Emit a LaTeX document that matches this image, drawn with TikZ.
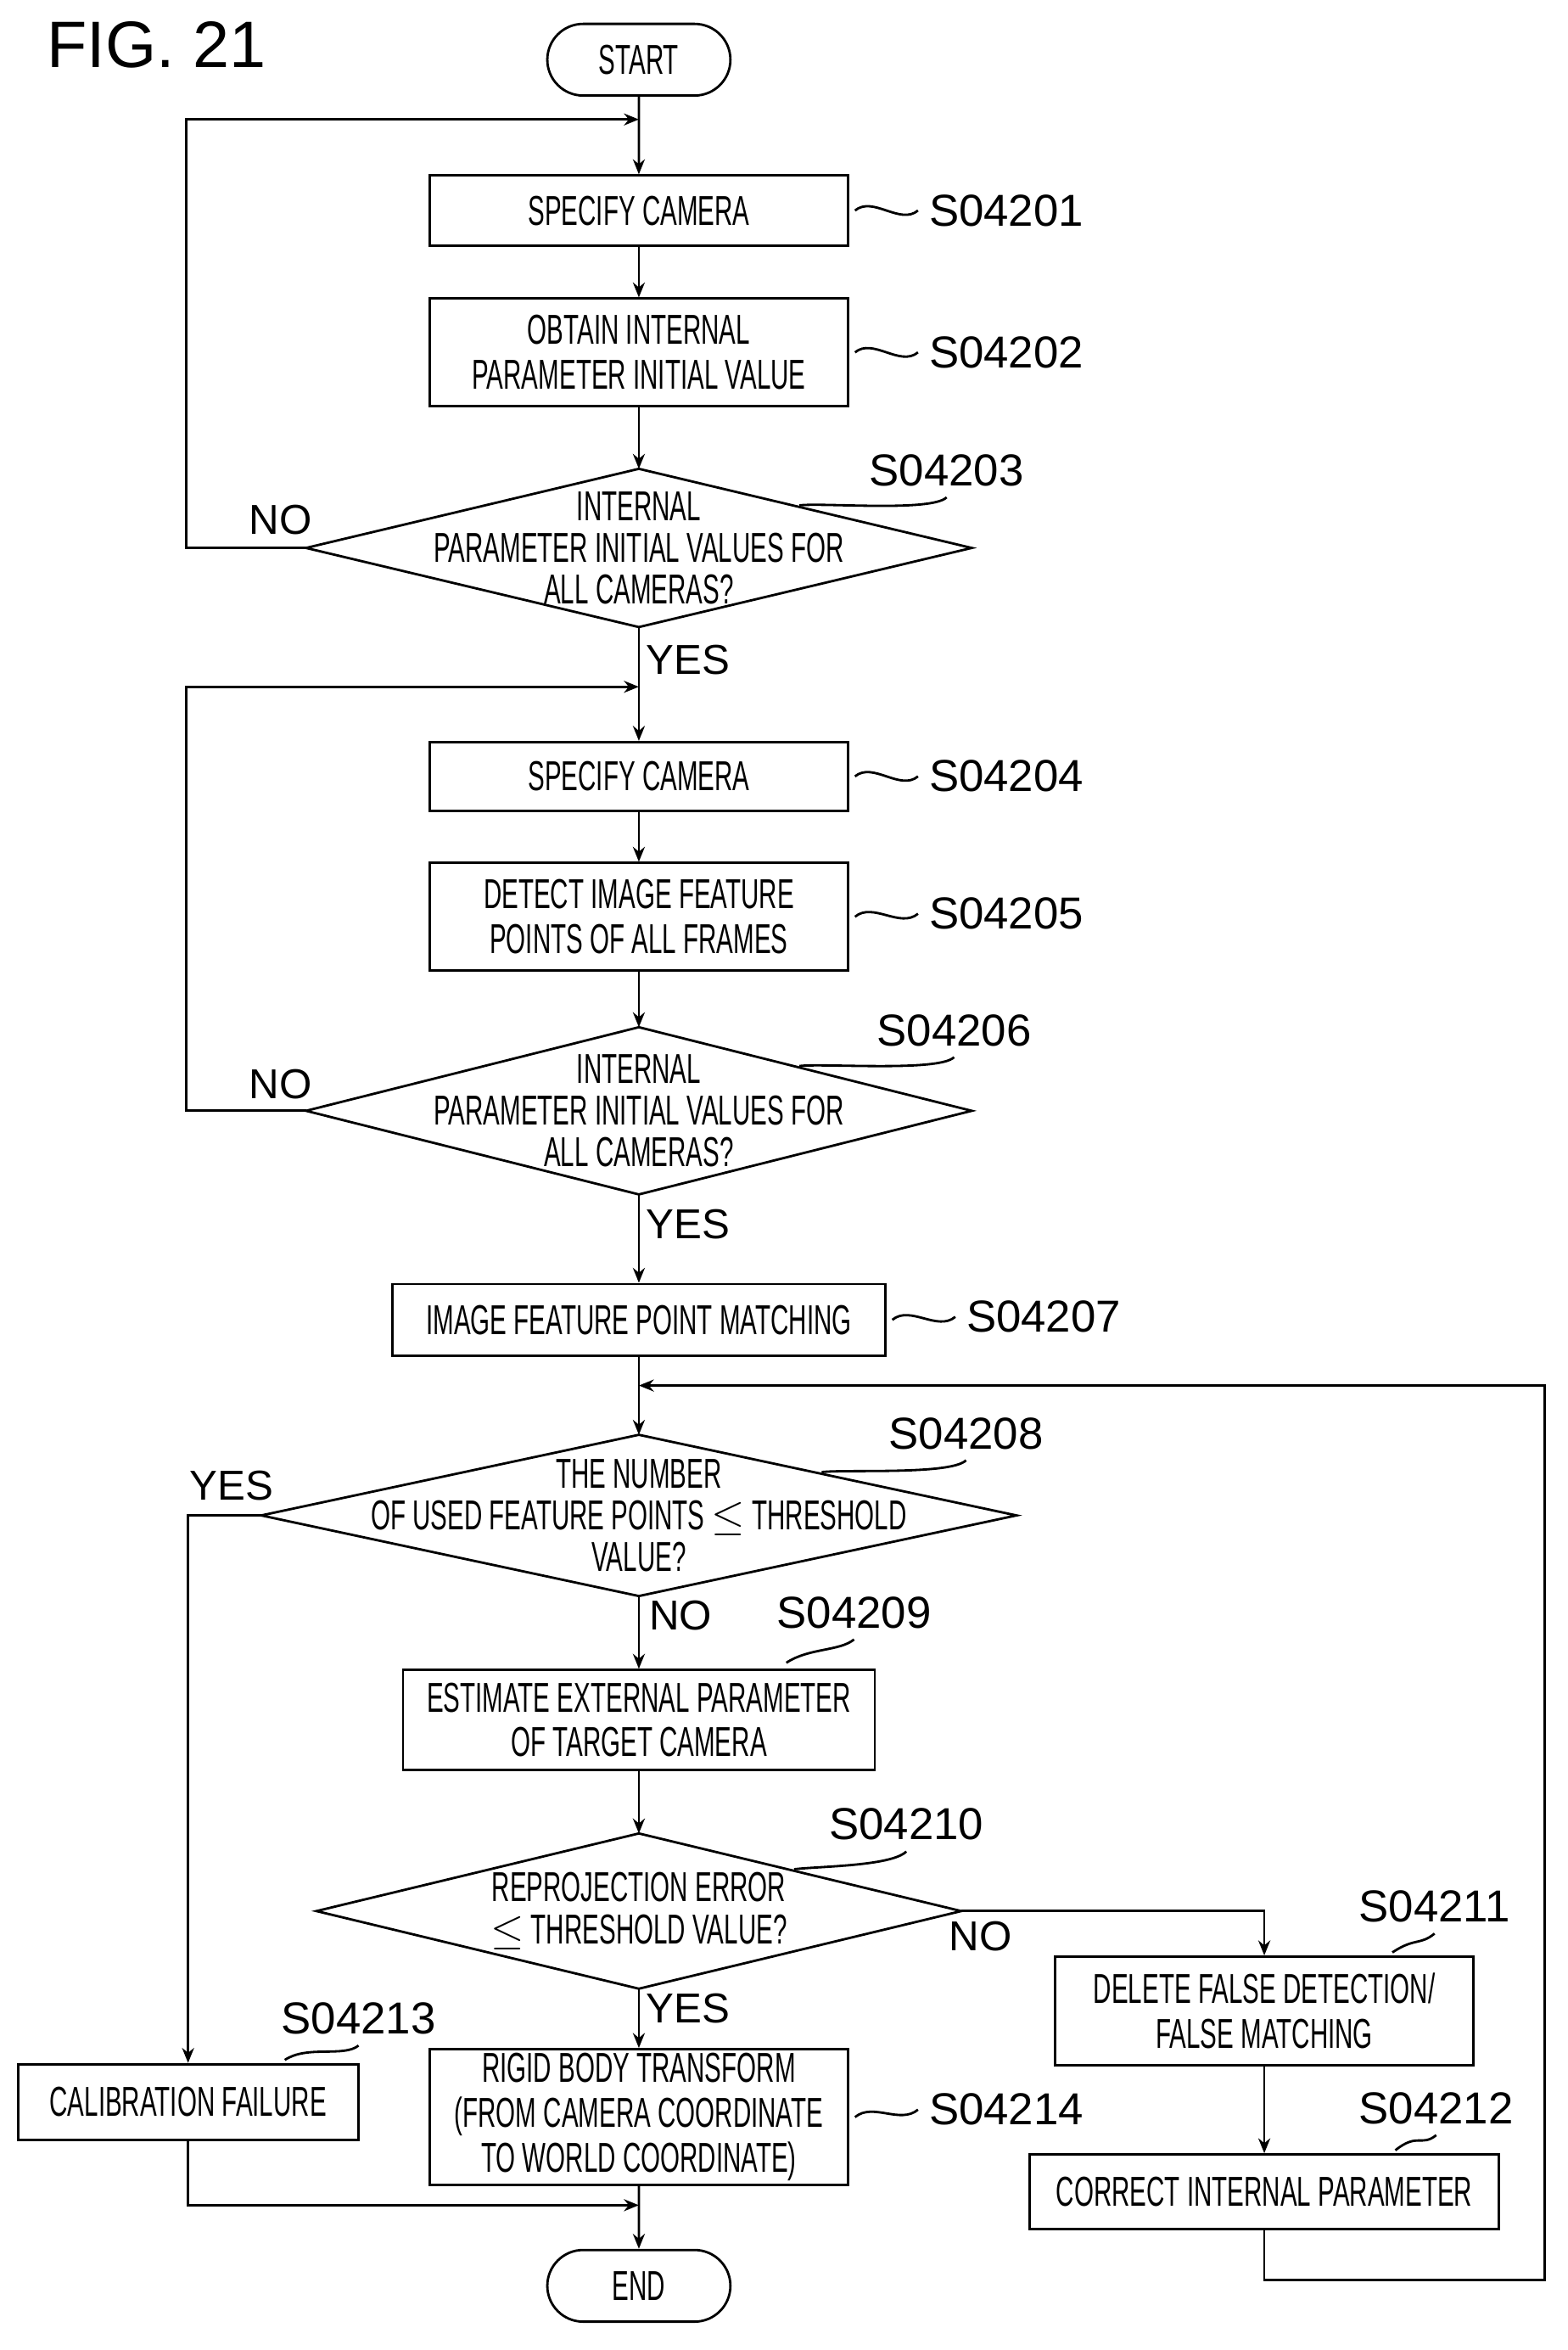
\documentclass[tikz,border=0pt]{standalone}
\usepackage{fontspec}
\setmainfont{Liberation Sans}
\newfontfamily\cond[FakeStretch=0.6]{Liberation Sans}
\usetikzlibrary{shapes.geometric,shapes.misc,arrows.meta}
\newcommand{\mydia}[6]{%
 \coordinate (#1-w) at (#2-#4,#3);
 \coordinate (#1-e) at (#2+#4,#3);
 \coordinate (#1-n) at (#2,#3-#5);
 \coordinate (#1-s) at (#2,#3+#5);
 \coordinate (#1-ne) at (#2+#4/2,#3-#5/2);
 \draw (#1-w) -- (#1-n) -- (#1-e) -- (#1-s) -- cycle;
 \node[diatext] (#1) at (#2,#3) {#6};}
\begin{document}
\begin{tikzpicture}[x=0.5pt,y=-0.5pt,
 line width=0.8pt,
 box/.style={draw,rectangle,inner sep=0pt,font=\cond\fontsize{14}{15}\selectfont,align=center},
 term/.style={draw,rounded rectangle,minimum width=68pt,minimum height=24pt,font=\cond\fontsize{14}{15}\selectfont},
 diatext/.style={inner sep=0pt,font=\cond\fontsize{14}{14}\selectfont,align=center},
 lab/.style={font=\fontsize{15}{16}\selectfont,anchor=west},
 yn/.style={font=\fontsize{14}{15}\selectfont},
 arr/.style={-{Stealth[length=5pt,width=4pt]}}]
\useasboundingbox (0,0) rectangle (1050,1574);
\node[font=\fontsize{22}{24}\selectfont] (fig) at (105,30) {FIG. 21};
\node[term] (start) at (428,40) {START};
\node[box,minimum width=140pt,minimum height=23.5pt] (b1) at (428,141) {SPECIFY CAMERA};
\node[box,minimum width=140pt,minimum height=36pt] (b2) at (428,236) {OBTAIN INTERNAL\\PARAMETER INITIAL VALUE};
\mydia{d3}{428}{367}{223}{53}{INTERNAL\\PARAMETER INITIAL VALUES FOR\\ALL CAMERAS?}
\node[box,minimum width=140pt,minimum height=23pt] (b4) at (428,520) {SPECIFY CAMERA};
\node[box,minimum width=140pt,minimum height=36pt] (b5) at (428,614) {DETECT IMAGE FEATURE\\POINTS OF ALL FRAMES};
\mydia{d6}{428}{744}{223}{56}{INTERNAL\\PARAMETER INITIAL VALUES FOR\\ALL CAMERAS?}
\node[box,minimum width=165pt,minimum height=24pt] (b7) at (428,884) {IMAGE FEATURE POINT MATCHING};
\mydia{d8}{428}{1015}{253}{54}{THE NUMBER\\OF USED FEATURE POINTS $\leq$ THRESHOLD\\VALUE?}
\node[box,minimum width=158pt,minimum height=33.5pt] (b9) at (428,1152) {ESTIMATE EXTERNAL PARAMETER\\OF TARGET CAMERA};
\mydia{d10}{428}{1280}{216}{52}{REPROJECTION ERROR\\$\leq$ THRESHOLD VALUE?}
\node[box,minimum width=140pt,minimum height=36.5pt] (b11) at (847,1347) {DELETE FALSE DETECTION/\\FALSE MATCHING};
\node[box,minimum width=157pt,minimum height=25pt] (b12) at (847,1468) {CORRECT INTERNAL PARAMETER};
\node[box,minimum width=114pt,minimum height=25.5pt] (b13) at (126,1408) {CALIBRATION FAILURE};
\node[box,minimum width=140pt,minimum height=45.5pt] (b14) at (428,1418) {RIGID BODY TRANSFORM\\(FROM CAMERA COORDINATE\\TO WORLD COORDINATE)};
\node[term] (end) at (428,1531) {END};
% labels
\node[lab] (l1) at (615,141) {S04201};
\node[lab] (l2) at (615,236) {S04202};
\node[lab] (l3) at (575,315) {S04203};
\node[lab] (l4) at (615,520) {S04204};
\node[lab] (l5) at (615,612) {S04205};
\node[lab] (l6) at (580,690) {S04206};
\node[lab] (l7) at (640,882) {S04207};
\node[lab] (l8) at (588,960) {S04208};
\node[lab] (l9) at (513,1080) {S04209};
\node[lab] (l10) at (548,1222) {S04210};
\node[lab] (l11) at (903,1277) {S04211};
\node[lab] (l12) at (903,1412) {S04212};
\node[lab] (l13) at (181,1352) {S04213};
\node[lab] (l14) at (615,1413) {S04214};
\foreach \b/\l in {b1/l1,b2/l2,b4/l4,b5/l5,b7/l7,b14/l14}
 \draw (\b.east) ++(4,0) .. controls +(12,-10) and +(-12,10) .. (\l.west);
\foreach \d/\l in {d3/l3,d6/l6,d8/l8,d10/l10}
 \draw (\d-ne) ++(-4,-2) .. controls +(15,-2) and +(-10,10) .. (\l.south);
\draw (b9.north east) ++(-60,-4) .. controls +(15,-10) and +(-10,8) .. (l9.south);
\draw (b11.north east) ++(-55,-2) .. controls +(15,-10) and +(-10,8) .. (l11.south);
\draw (b12.north east) ++(-70,-2) .. controls +(15,-12) and +(-10,8) .. (l12.south);
\draw (b13.north east) ++(-50,-2) .. controls +(15,-10) and +(-10,8) .. (l13.south);
% flow
\coordinate (j1) at (428,80);
\coordinate (j2) at (428,460);
\coordinate (j3) at (428,928);
\coordinate (j4) at (428,1477);
\draw[arr] (start) -- (b1);
\draw[arr] (b1) -- (b2);
\draw[arr] (b2) -- (d3-n);
\draw[arr] (d3-w) -- (125,367) -- (125,80) -- (j1);
\draw[arr] (d3-s) -- (b4);
\draw[arr] (b4) -- (b5);
\draw[arr] (b5) -- (d6-n);
\draw[arr] (d6-w) -- (125,744) -- (125,460) -- (j2);
\draw[arr] (d6-s) -- (b7);
\draw[arr] (b7) -- (d8-n);
\draw[arr] (b12.south) -- (847,1527) -- (1035,1527) -- (1035,928) -- (j3);
\draw[arr] (d8-w) -- (126,1015) -- (b13.north);
\draw[arr] (d8-s) -- (b9);
\draw[arr] (b9) -- (d10-n);
\draw[arr] (d10-e) -- (847,1280) -- (b11.north);
\draw[arr] (b11) -- (b12);
\draw[arr] (d10-s) -- (b14);
\draw[arr] (b13.south) -- (126,1477) -- (j4);
\draw[arr] (b14) -- (end);
% yes/no
\node[yn] (n1) at (188,348) {NO};
\node[yn] (y1) at (461,442) {YES};
\node[yn] (n2) at (188,726) {NO};
\node[yn] (y2) at (461,820) {YES};
\node[yn] (y3) at (155,995) {YES};
\node[yn] (n3) at (456,1082) {NO};
\node[yn] (n4) at (657,1297) {NO};
\node[yn] (y4) at (461,1345) {YES};
\end{tikzpicture}
\end{document}
